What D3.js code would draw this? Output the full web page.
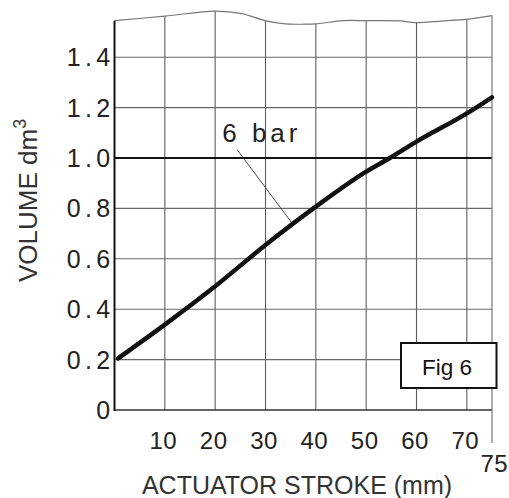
<!DOCTYPE html>
<html>
<head>
<meta charset="utf-8">
<script src="https://cdn.jsdelivr.net/npm/d3@7"></script>
<style>
  html, body { margin: 0; padding: 0; background: #fff; }
  svg { display: block; }
</style>
</head>
<body>
<script>
// ---- data ----
const strokeMm   = [0.7, 10, 20, 30, 40, 50, 54.7, 60, 70, 75];
const volume6bar = [0.205, 0.339, 0.491, 0.655, 0.807, 0.946, 1.0, 1.065, 1.177, 1.241];
const xTicks = [10, 20, 30, 40, 50, 60, 70];
const xTickLabels = ["10", "20", "30", "40", "50", "60", "70"];
const yTicks = [0, 0.2, 0.4, 0.6, 0.8, 1.0, 1.2, 1.4];
const yTickLabels = ["0", "0.2", "0.4", "0.6", "0.8", "1.0", "1.2", "1.4"];
const xEndLabel = "75";
const seriesLabel = "6 bar";
const figLabel = "Fig 6";
const xTitle = "ACTUATOR STROKE (mm)";
const yTitle = "VOLUME dm";
const yTitleSup = "3";
// broken top edge of the chart paper (stroke mm, volume)
const topEdgeX = [0, 10, 20, 25.3, 29.9, 33.9, 37.8, 39.9, 45.5, 49.9, 56.7, 59.7, 63.3, 69.7, 72.7, 75];
const topEdgeY = [1.545, 1.563, 1.583, 1.573, 1.545, 1.532, 1.531, 1.532, 1.545, 1.545, 1.544, 1.537, 1.541, 1.550, 1.558, 1.565];

// ---- layout ----
const W = 509, H = 498;
const x = d3.scaleLinear().domain([0, 75]).range([114.5, 492]);
const y = d3.scaleLinear().domain([0, 1]).range([410, 158]);
const FONT = "Liberation Sans, Arial, sans-serif";

const svg = d3.select("body").append("svg").attr("width", W).attr("height", H);

const topPts = topEdgeX.map((v, i) => [v, topEdgeY[i]]);
const area = d3.area().x(d => x(d[0])).y0(y(0)).y1(d => y(d[1])).curve(d3.curveCatmullRom);
const topLine = d3.line().x(d => x(d[0])).y(d => y(d[1])).curve(d3.curveCatmullRom);

svg.append("clipPath").attr("id", "paper")
  .append("path").attr("d", area(topPts));

const grid = svg.append("g").attr("clip-path", "url(#paper)");

// vertical grid
grid.selectAll("line.vg").data(xTicks).join("line")
  .attr("x1", d => x(d)).attr("x2", d => x(d))
  .attr("y1", 0).attr("y2", y(0))
  .attr("stroke", "#5e5e5e").attr("stroke-width", 1.1);

// horizontal grid
grid.selectAll("line.hg").data(yTicks.filter(v => v > 0)).join("line")
  .attr("x1", x(0)).attr("x2", x(75))
  .attr("y1", d => y(d)).attr("y2", d => y(d))
  .attr("stroke", d => d === 1.0 ? "#111" : "#6a6a6a")
  .attr("stroke-width", d => d === 1.0 ? 2 : 1.1);

// top broken edge
svg.append("path").attr("d", topLine(topPts))
  .attr("fill", "none").attr("stroke", "#777").attr("stroke-width", 1.2);

// right edge (x = 75), extending below the axis
svg.append("line")
  .attr("x1", x(75)).attr("x2", x(75))
  .attr("y1", y(topEdgeY[topEdgeY.length - 1])).attr("y2", y(0) + 33)
  .attr("stroke", "#777").attr("stroke-width", 1.2);

// bottom axis line
svg.append("line")
  .attr("x1", x(0)).attr("x2", x(75))
  .attr("y1", y(0)).attr("y2", y(0))
  .attr("stroke", "#333").attr("stroke-width", 1.6);

// left axis line
svg.append("line")
  .attr("x1", x(0)).attr("x2", x(0))
  .attr("y1", y(topEdgeY[0])).attr("y2", y(0) + 1)
  .attr("stroke", "#111").attr("stroke-width", 2);

// y tick labels
svg.selectAll("text.yt").data(yTicks).join("text")
  .attr("x", 114.5).attr("y", d => y(d) + 9)
  .attr("text-anchor", "end")
  .attr("font-family", FONT)
  .attr("font-size", 25)
  .attr("letter-spacing", 4.3)
  .attr("fill", "#222")
  .text((d, i) => yTickLabels[i]);

// x tick labels
svg.selectAll("text.xt").data(xTicks).join("text")
  .attr("x", d => x(d) - 1.5).attr("y", 449)
  .attr("text-anchor", "middle")
  .attr("font-family", FONT)
  .attr("font-size", 24)
  .attr("letter-spacing", 0.5)
  .attr("fill", "#222")
  .text((d, i) => xTickLabels[i]);

svg.append("text")
  .attr("x", x(75) - 11.5).attr("y", 472)
  .attr("font-family", FONT)
  .attr("font-size", 24)
  .attr("letter-spacing", 0.5)
  .attr("fill", "#222")
  .text(xEndLabel);

// data curve
const curve = d3.line().x((d, i) => x(strokeMm[i])).y(d => y(d)).curve(d3.curveMonotoneX);
svg.append("path").attr("d", curve(volume6bar))
  .attr("fill", "none").attr("stroke", "#111").attr("stroke-width", 4.5)
  .attr("stroke-linecap", "round").attr("stroke-linejoin", "round");

// series label with leader
svg.append("text")
  .attr("x", x(21.4)).attr("y", y(1.065))
  .attr("font-family", FONT)
  .attr("font-size", 26)
  .attr("letter-spacing", 4)
  .attr("fill", "#222")
  .text(seriesLabel);
svg.append("line")
  .attr("x1", x(24.4)).attr("y1", y(1.032))
  .attr("x2", x(35.1)).attr("y2", y(0.746))
  .attr("stroke", "#333").attr("stroke-width", 0.9);

// Fig box
svg.append("rect")
  .attr("x", 401).attr("y", 343).attr("width", 95.5).attr("height", 45)
  .attr("fill", "#fff").attr("stroke", "#111").attr("stroke-width", 2);
svg.append("text")
  .attr("x", 447).attr("y", 374.5)
  .attr("text-anchor", "middle")
  .attr("font-family", FONT)
  .attr("font-size", 22.5)
  .attr("fill", "#111")
  .text(figLabel);

// axis titles
svg.append("text")
  .attr("x", 297).attr("y", 494)
  .attr("text-anchor", "middle")
  .attr("font-family", FONT)
  .attr("font-size", 25)
  .attr("fill", "#333")
  .text(xTitle);

const yt = svg.append("text")
  .attr("transform", "translate(37,282) rotate(-90)")
  .attr("font-family", FONT)
  .attr("font-size", 26)
  .attr("fill", "#333");
yt.append("tspan").text(yTitle);
yt.append("tspan").attr("dy", -11).attr("font-size", 18).text(yTitleSup);
</script>
</body>
</html>
